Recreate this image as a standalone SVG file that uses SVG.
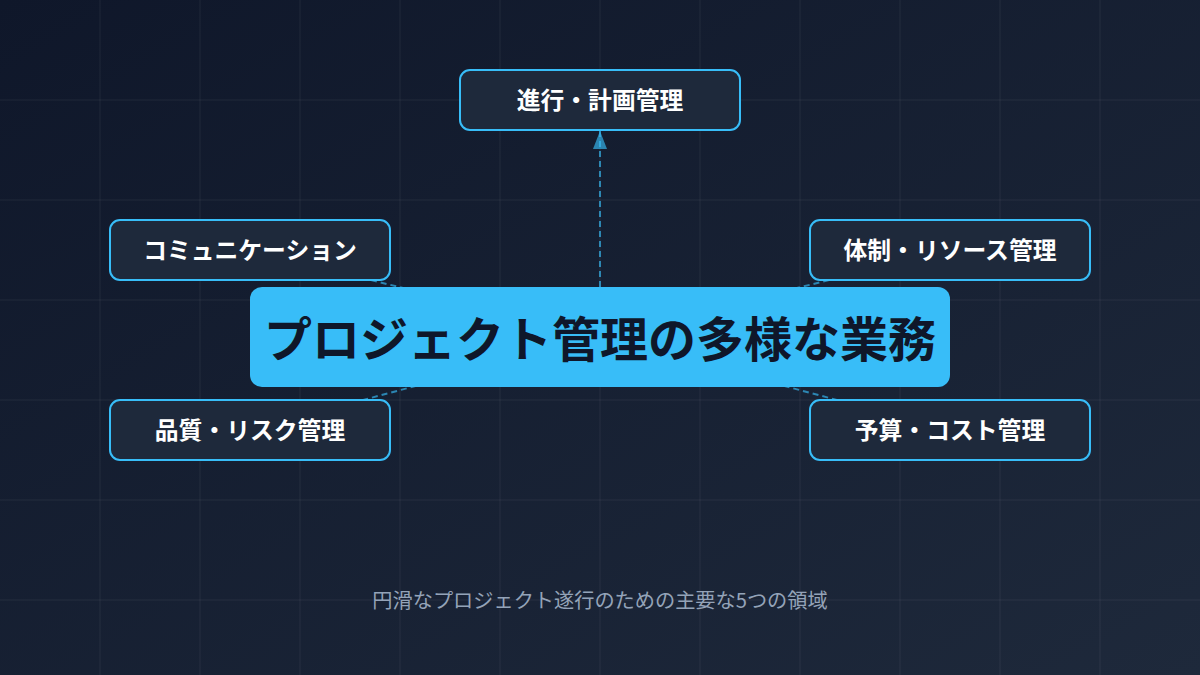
<svg xmlns="http://www.w3.org/2000/svg" width="1200" height="675" viewBox="0 0 1200 675">
<defs>
<linearGradient id="bg" x1="0" y1="0" x2="1" y2="1">
<stop offset="0" stop-color="#0f172a"/>
<stop offset="1" stop-color="#1e293b"/>
</linearGradient>
<marker id="arrow" viewBox="0 0 18 14" refX="18" refY="7" markerWidth="18" markerHeight="14" markerUnits="userSpaceOnUse" orient="auto">
<path d="M0,0 L18,7 L0,14 Z" fill="#38bdf8" fill-opacity="0.65"/>
</marker>
<style>
.grid line{stroke:#ffffff;stroke-opacity:0.03;stroke-width:2}
.conn{stroke:#38bdf8;stroke-opacity:0.65;stroke-width:2;stroke-dasharray:6 4;fill:none}
.node rect{fill:#1e293b;stroke:#38bdf8;stroke-width:2}
.node text{font-family:"Noto Sans CJK JP","Noto Sans",sans-serif;font-weight:700;font-size:23.8px;fill:#ffffff;text-anchor:middle;dominant-baseline:central}
.main rect{fill:#38bdf8}
.main text{font-family:"Noto Sans CJK JP","Noto Sans",sans-serif;font-weight:700;font-size:48px;fill:#0f172a;text-anchor:middle;dominant-baseline:central}
.caption{font-family:"Noto Sans CJK JP","Noto Sans",sans-serif;font-size:20.2px;fill:#94a3b8;text-anchor:middle;dominant-baseline:central}
</style>
</defs>
<rect width="1200" height="675" fill="url(#bg)"/>
<g class="grid">
<line x1="100" y1="0" x2="100" y2="675"/><line x1="200" y1="0" x2="200" y2="675"/><line x1="300" y1="0" x2="300" y2="675"/><line x1="400" y1="0" x2="400" y2="675"/><line x1="500" y1="0" x2="500" y2="675"/><line x1="600" y1="0" x2="600" y2="675"/><line x1="700" y1="0" x2="700" y2="675"/><line x1="800" y1="0" x2="800" y2="675"/><line x1="900" y1="0" x2="900" y2="675"/><line x1="1000" y1="0" x2="1000" y2="675"/><line x1="1100" y1="0" x2="1100" y2="675"/>
<line x1="0" y1="100" x2="1200" y2="100"/><line x1="0" y1="200" x2="1200" y2="200"/><line x1="0" y1="300" x2="1200" y2="300"/><line x1="0" y1="400" x2="1200" y2="400"/><line x1="0" y1="500" x2="1200" y2="500"/><line x1="0" y1="600" x2="1200" y2="600"/>
</g>
<g id="connectors">
<line class="conn" x1="600" y1="287" x2="600" y2="131" marker-end="url(#arrow)"/>
<line class="conn" x1="600" y1="337" x2="250" y2="250"/>
<line class="conn" x1="600" y1="337" x2="950" y2="250"/>
<line class="conn" x1="600" y1="337" x2="250" y2="430"/>
<line class="conn" x1="600" y1="337" x2="950" y2="430"/>
</g>
<g id="node-schedule" class="node"><rect x="460" y="70" width="280" height="60" rx="10"/><text x="600" y="98.5">進行・計画管理</text></g>
<g id="node-communication" class="node"><rect x="110" y="220" width="280" height="60" rx="10"/><text x="250" y="248.5">コミュニケーション</text></g>
<g id="node-resource" class="node"><rect x="810" y="220" width="280" height="60" rx="10"/><text x="950" y="248.5">体制・リソース管理</text></g>
<g id="node-quality" class="node"><rect x="110" y="400" width="280" height="60" rx="10"/><text x="250" y="428.5">品質・リスク管理</text></g>
<g id="node-budget" class="node"><rect x="810" y="400" width="280" height="60" rx="10"/><text x="950" y="428.5">予算・コスト管理</text></g>
<g id="node-main" class="main"><rect x="250" y="287" width="700" height="100" rx="12"/><text x="600" y="335.5">プロジェクト管理の多様な業務</text></g>
<text class="caption" x="600" y="599">円滑なプロジェクト遂行のための主要な5つの領域</text>
</svg>
